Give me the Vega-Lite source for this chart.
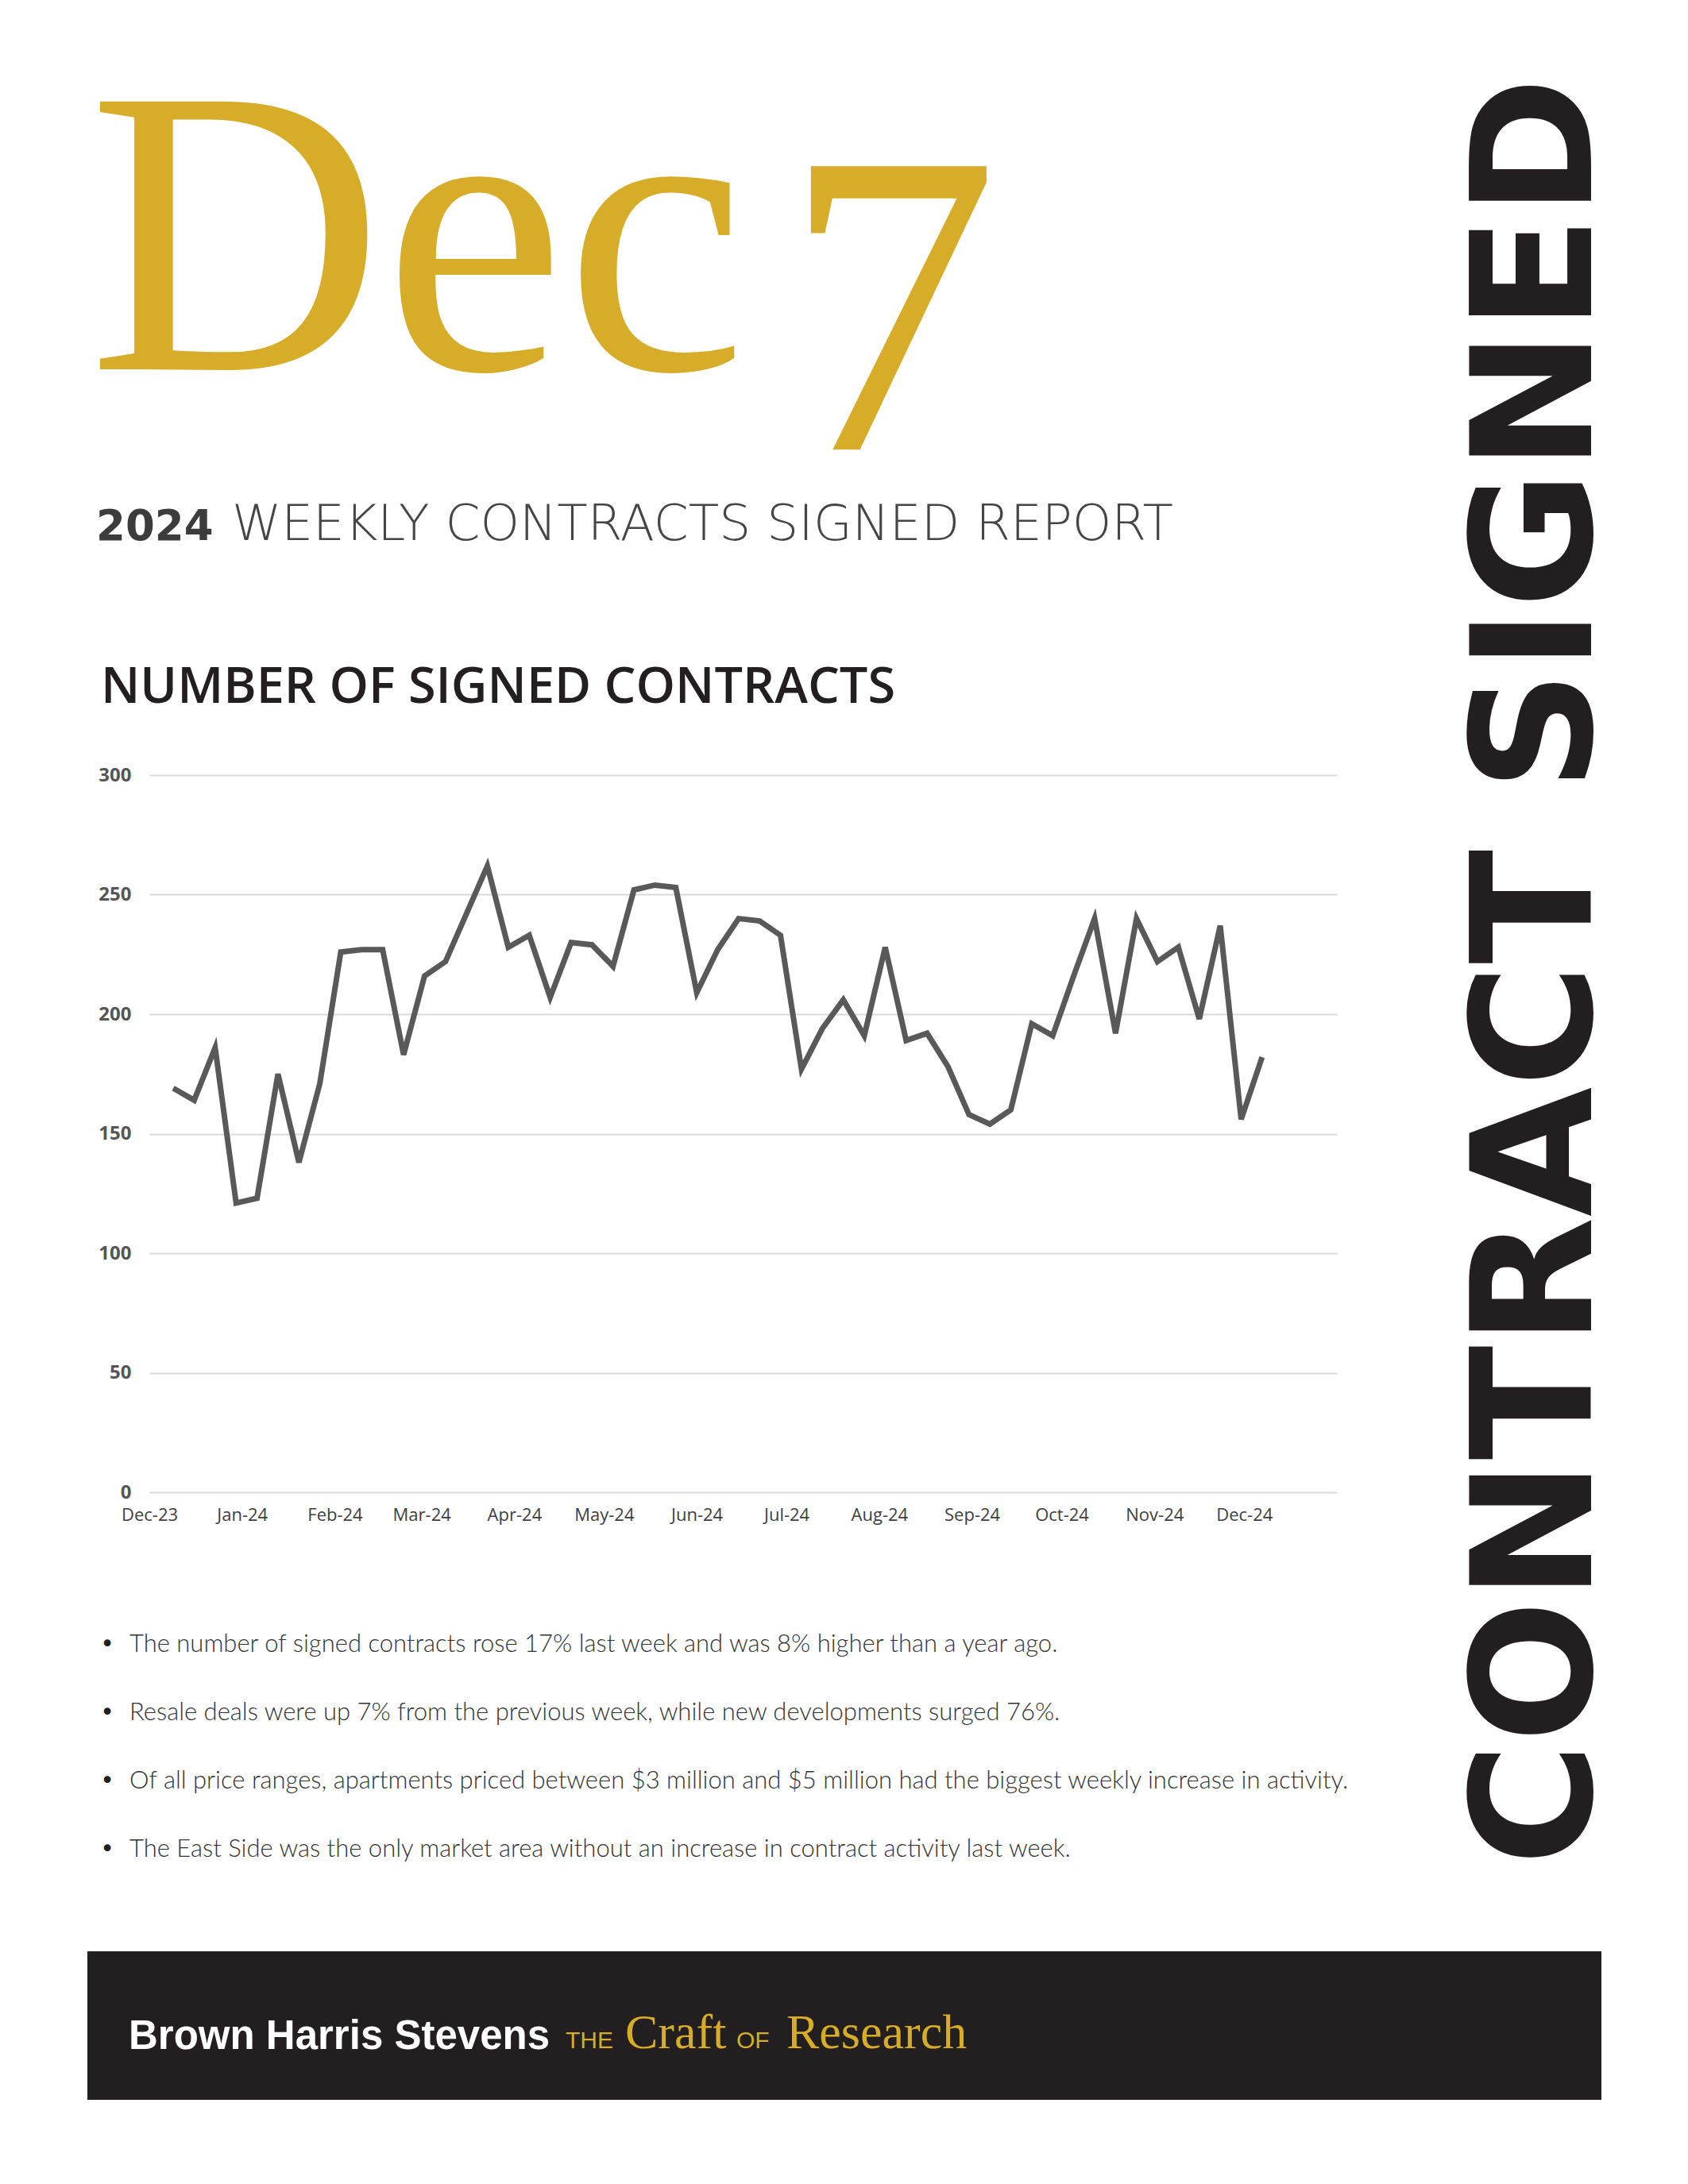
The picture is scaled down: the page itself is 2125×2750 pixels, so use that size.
{
  "$schema": "https://vega.github.io/schema/vega-lite/v6.json",
  "background": "white",
  "padding": {"left": 110, "top": 0, "right": 110, "bottom": 100},
  "config": {"view": {"stroke": null}},
  "spacing": 0,
  "bounds": "flush",
  "vconcat": [
    {
      "width": 1700,
      "height": 976,
      "layer": [
        {
          "data": {"values": [{"t": "Dec"}]},
          "mark": {"type": "text", "font": "Liberation Serif", "fontSize": 515, "color": "#D6AC28", "align": "left", "baseline": "alphabetic", "dx": -849, "dy": -23},
          "encoding": {"text": {"field": "t", "type": "nominal"}}
        },
        {
          "data": {"values": [{"t": "7"}]},
          "mark": {"type": "text", "font": "Liberation Serif", "fontSize": 545, "color": "#D6AC28", "align": "left", "baseline": "alphabetic", "dx": 25, "dy": 78},
          "encoding": {"text": {"field": "t", "type": "nominal"}}
        },
        {
          "data": {"values": [{"t": "2024"}]},
          "mark": {"type": "text", "font": "DejaVu Sans", "fontWeight": "bold", "fontSize": 53, "color": "#3c3c3c", "align": "left", "baseline": "alphabetic", "dx": -839, "dy": 192},
          "encoding": {"text": {"field": "t", "type": "nominal"}}
        },
        {
          "data": {"values": [{"t": "WEEKLY CONTRACTS SIGNED REPORT"}]},
          "mark": {"type": "text", "font": "DejaVu Sans", "fontWeight": 200, "fontSize": 63, "color": "#454545", "align": "left", "baseline": "alphabetic", "dx": -668, "dy": 192},
          "encoding": {"text": {"field": "t", "type": "nominal"}}
        },
        {
          "data": {"values": [{"t": "NUMBER OF SIGNED CONTRACTS"}]},
          "mark": {"type": "text", "font": "Open Sans", "fontWeight": 600, "fontSize": 63, "color": "#231f20", "align": "left", "baseline": "alphabetic", "dx": -833, "dy": 397},
          "encoding": {"text": {"field": "t", "type": "nominal"}}
        },
        {
          "data": {"values": [{"t": "CONTRACT SIGNED"}]},
          "mark": {"type": "text", "font": "DejaVu Sans", "fontWeight": "bold", "fontSize": 211, "color": "#231f20", "angle": 270, "align": "center", "baseline": "alphabetic", "dx": -735, "dy": 1043},
          "encoding": {"text": {"field": "t", "type": "nominal"}}
        }
      ]
    },
    {
      "width": 1573,
      "height": 903,
      "data": {"values": [
        {"week": "2023-12-09", "contracts": 169},
        {"week": "2023-12-16", "contracts": 164},
        {"week": "2023-12-23", "contracts": 186},
        {"week": "2023-12-30", "contracts": 121},
        {"week": "2024-01-06", "contracts": 123},
        {"week": "2024-01-13", "contracts": 175},
        {"week": "2024-01-20", "contracts": 138},
        {"week": "2024-01-27", "contracts": 171},
        {"week": "2024-02-03", "contracts": 226},
        {"week": "2024-02-10", "contracts": 227},
        {"week": "2024-02-17", "contracts": 227},
        {"week": "2024-02-24", "contracts": 183},
        {"week": "2024-03-02", "contracts": 216},
        {"week": "2024-03-09", "contracts": 222},
        {"week": "2024-03-16", "contracts": 242},
        {"week": "2024-03-23", "contracts": 262},
        {"week": "2024-03-30", "contracts": 228},
        {"week": "2024-04-06", "contracts": 233},
        {"week": "2024-04-13", "contracts": 207},
        {"week": "2024-04-20", "contracts": 230},
        {"week": "2024-04-27", "contracts": 229},
        {"week": "2024-05-04", "contracts": 220},
        {"week": "2024-05-11", "contracts": 252},
        {"week": "2024-05-18", "contracts": 254},
        {"week": "2024-05-25", "contracts": 253},
        {"week": "2024-06-01", "contracts": 209},
        {"week": "2024-06-08", "contracts": 227},
        {"week": "2024-06-15", "contracts": 240},
        {"week": "2024-06-22", "contracts": 239},
        {"week": "2024-06-29", "contracts": 233},
        {"week": "2024-07-06", "contracts": 177},
        {"week": "2024-07-13", "contracts": 194},
        {"week": "2024-07-20", "contracts": 206},
        {"week": "2024-07-27", "contracts": 191},
        {"week": "2024-08-03", "contracts": 228},
        {"week": "2024-08-10", "contracts": 189},
        {"week": "2024-08-17", "contracts": 192},
        {"week": "2024-08-24", "contracts": 178},
        {"week": "2024-08-31", "contracts": 158},
        {"week": "2024-09-07", "contracts": 154},
        {"week": "2024-09-14", "contracts": 160},
        {"week": "2024-09-21", "contracts": 196},
        {"week": "2024-09-28", "contracts": 191},
        {"week": "2024-10-05", "contracts": 216},
        {"week": "2024-10-12", "contracts": 240},
        {"week": "2024-10-19", "contracts": 192},
        {"week": "2024-10-26", "contracts": 240},
        {"week": "2024-11-02", "contracts": 222},
        {"week": "2024-11-09", "contracts": 228},
        {"week": "2024-11-16", "contracts": 198},
        {"week": "2024-11-23", "contracts": 237},
        {"week": "2024-11-30", "contracts": 156},
        {"week": "2024-12-07", "contracts": 182}
      ]},
      "mark": {"type": "line", "color": "#595959", "strokeWidth": 7, "strokeJoin": "miter"},
      "encoding": {
        "x": {
          "field": "week",
          "type": "temporal",
          "scale": {"type": "utc", "rangeMin": 78, "domain": [{"year": 2023, "month": 12, "date": 1, "utc": true}, {"year": 2025, "month": 1, "date": 1, "utc": true}]},
          "axis": {
            "title": null,
            "values": [
              {"year": 2023, "month": 12, "date": 1, "utc": true},
              {"year": 2024, "month": 1, "date": 1, "utc": true},
              {"year": 2024, "month": 2, "date": 1, "utc": true},
              {"year": 2024, "month": 3, "date": 1, "utc": true},
              {"year": 2024, "month": 4, "date": 1, "utc": true},
              {"year": 2024, "month": 5, "date": 1, "utc": true},
              {"year": 2024, "month": 6, "date": 1, "utc": true},
              {"year": 2024, "month": 7, "date": 1, "utc": true},
              {"year": 2024, "month": 8, "date": 1, "utc": true},
              {"year": 2024, "month": 9, "date": 1, "utc": true},
              {"year": 2024, "month": 10, "date": 1, "utc": true},
              {"year": 2024, "month": 11, "date": 1, "utc": true},
              {"year": 2024, "month": 12, "date": 1, "utc": true}
            ],
            "format": "%b-%y",
            "grid": false,
            "domain": false,
            "ticks": false,
            "tickSize": 0,
            "labelPadding": 18,
            "labelFont": "Open Sans",
            "labelFontSize": 22,
            "labelColor": "#404040",
            "labelFlush": false,
            "labelOverlap": false
          }
        },
        "y": {
          "field": "contracts",
          "type": "quantitative",
          "scale": {"domain": [0, 300], "nice": false},
          "axis": {
            "title": null,
            "values": [0, 50, 100, 150, 200, 250, 300],
            "offset": -78,
            "grid": true,
            "gridColor": "#d9d9d9",
            "gridWidth": 2,
            "domain": false,
            "ticks": false,
            "tickSize": 0,
            "labelPadding": 23,
            "labelFont": "Open Sans",
            "labelFontWeight": "bold",
            "labelFontSize": 24,
            "labelColor": "#555555"
          }
        }
      }
    },
    {
      "width": 1,
      "height": 106,
      "data": {"values": [{"t": ""}]},
      "mark": {"type": "text"},
      "encoding": {"text": {"field": "t", "type": "nominal"}}
    },
    {
      "width": 1700,
      "height": 430,
      "data": {"values": [
        {"n": 1, "text": "The number of signed contracts rose 17% last week and was 8% higher than a year ago."},
        {"n": 2, "text": "Resale deals were up 7% from the previous week, while new developments surged 76%."},
        {"n": 3, "text": "Of all price ranges, apartments priced between $3 million and $5 million had the biggest weekly increase in activity."},
        {"n": 4, "text": "The East Side was the only market area without an increase in contract activity last week."}
      ]},
      "encoding": {
        "y": {"field": "n", "type": "ordinal", "scale": {"type": "point", "padding": 1}, "axis": null}
      },
      "layer": [
        {
          "mark": {"type": "text", "font": "Lato", "fontWeight": 300, "fontSize": 31, "color": "#333333", "align": "left", "baseline": "middle", "dx": -797},
          "encoding": {"text": {"field": "text", "type": "nominal"}}
        },
        {
          "mark": {"type": "text", "font": "DejaVu Sans", "fontSize": 30, "color": "#231f20", "align": "center", "baseline": "middle", "dx": -825},
          "encoding": {"text": {"value": "•"}}
        }
      ]
    },
    {
      "width": 1,
      "height": 42,
      "data": {"values": [{"t": ""}]},
      "mark": {"type": "text"},
      "encoding": {"text": {"field": "t", "type": "nominal"}}
    },
    {
      "width": 1906,
      "height": 187,
      "view": {"fill": "#231f20", "stroke": null},
      "layer": [
        {
          "data": {"values": [{"t": "Brown Harris Stevens"}]},
          "mark": {"type": "text", "font": "Liberation Sans Narrow, Liberation Sans", "fontWeight": "bold", "fontSize": 51, "color": "#ffffff", "align": "left", "baseline": "alphabetic", "dx": -901, "dy": 29},
          "encoding": {"text": {"field": "t", "type": "nominal"}}
        },
        {
          "data": {"values": [{"t": "THE"}]},
          "mark": {"type": "text", "font": "Liberation Sans", "fontSize": 30, "color": "#D6AC28", "align": "left", "baseline": "alphabetic", "dx": -351, "dy": 28},
          "encoding": {"text": {"field": "t", "type": "nominal"}}
        },
        {
          "data": {"values": [{"t": "Craft"}]},
          "mark": {"type": "text", "font": "Liberation Serif", "fontSize": 62, "color": "#D6AC28", "align": "left", "baseline": "alphabetic", "dx": -276, "dy": 28},
          "encoding": {"text": {"field": "t", "type": "nominal"}}
        },
        {
          "data": {"values": [{"t": "OF"}]},
          "mark": {"type": "text", "font": "Liberation Sans", "fontSize": 30, "color": "#D6AC28", "align": "left", "baseline": "alphabetic", "dx": -136, "dy": 28},
          "encoding": {"text": {"field": "t", "type": "nominal"}}
        },
        {
          "data": {"values": [{"t": "Research"}]},
          "mark": {"type": "text", "font": "Liberation Serif", "fontSize": 62, "color": "#D6AC28", "align": "left", "baseline": "alphabetic", "dx": -73, "dy": 28},
          "encoding": {"text": {"field": "t", "type": "nominal"}}
        }
      ]
    }
  ]
}
